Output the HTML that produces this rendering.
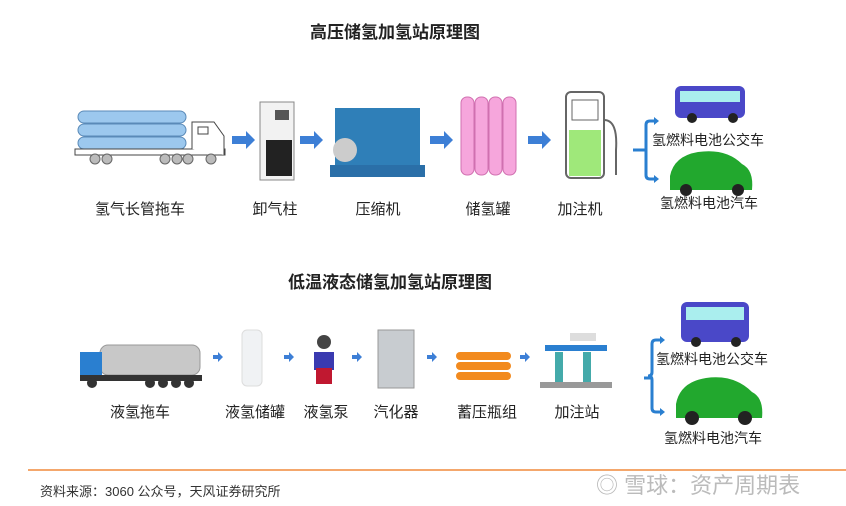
<!DOCTYPE html><html><head><meta charset="utf-8"><style>
body{margin:0;width:846px;height:506px;background:#fff;position:relative;overflow:hidden;font-family:"Liberation Sans","Noto Sans CJK SC",sans-serif}
.a{position:absolute}
.t{position:absolute;font-size:15px;color:#222;white-space:nowrap;transform:translateX(-50%)}
.h{position:absolute;font-size:17px;font-weight:bold;color:#222;transform:translateX(-50%);white-space:nowrap}
</style></head><body>
<div class="h" style="left:395px;top:18px">高压储氢加氢站原理图</div>
<div class="h" style="left:390px;top:268px">低温液态储氢加氢站原理图</div>
<svg class="a" style="left:0;top:0" width="846" height="506">
<!-- truck 1 -->
<g fill="#9cc8ee" stroke="#5a8ab8"><rect x="78" y="111" width="108" height="12" rx="6"/><rect x="78" y="124" width="108" height="12" rx="6"/><rect x="78" y="137" width="108" height="12" rx="6"/></g>
<rect x="75" y="149" width="150" height="6" fill="#fff" stroke="#444"/>
<path d="M192 149V122h22l10 14v19" fill="#fff" stroke="#444"/><rect x="198" y="127" width="10" height="7" fill="none" stroke="#444"/>
<g fill="#bbb" stroke="#666"><circle cx="95" cy="159" r="5"/><circle cx="107" cy="159" r="5"/><circle cx="165" cy="159" r="5"/><circle cx="177" cy="159" r="5"/><circle cx="188" cy="159" r="5"/><circle cx="211" cy="159" r="5"/></g>
<g fill="#3d7fd6"><path d="M232 136h14v-5l9 9-9 9v-5h-14z"/><path d="M300 136h14v-5l9 9-9 9v-5h-14z"/><path d="M430 136h14v-5l9 9-9 9v-5h-14z"/><path d="M528 136h14v-5l9 9-9 9v-5h-14z"/></g>
<rect x="260" y="102" width="34" height="78" fill="#f2f2f2" stroke="#888"/><rect x="275" y="110" width="14" height="10" fill="#555"/><rect x="266" y="140" width="26" height="36" fill="#222"/>
<rect x="335" y="108" width="85" height="60" fill="#2f7fb8"/><rect x="330" y="165" width="95" height="12" fill="#2a6fa8"/><circle cx="345" cy="150" r="12" fill="#ccc"/>
<g fill="#f6a6dc" stroke="#d070b0"><rect x="461" y="97" width="13" height="78" rx="6"/><rect x="475" y="97" width="13" height="78" rx="6"/><rect x="489" y="97" width="13" height="78" rx="6"/><rect x="503" y="97" width="13" height="78" rx="6"/></g>
<rect x="566" y="92" width="38" height="86" rx="5" fill="#fff" stroke="#666" stroke-width="2"/><rect x="569" y="130" width="32" height="46" fill="#9fe87a"/><rect x="572" y="100" width="26" height="20" fill="#fff" stroke="#666"/>
<path d="M604 120q14 0 12 30v25" fill="none" stroke="#666" stroke-width="2"/>
<!-- bracket 1 -->
<path d="M656 121h-6q-4 0-4 4v50q0 4 4 4h6M633 150h13" fill="none" stroke="#2a7fd0" stroke-width="3"/>
<path d="M654 117l5 4-5 4zM654 175l5 4-5 4z" fill="#2a7fd0"/>
<rect x="675" y="86" width="70" height="32" rx="6" fill="#4a48c8"/><rect x="680" y="91" width="60" height="11" fill="#aee"/><circle cx="692" cy="118" r="5" fill="#222"/><circle cx="733" cy="118" r="5" fill="#222"/>
<path d="M670 190v-14q4-20 28-24q28-4 44 12q12 6 10 26z" fill="#22a82e"/><circle cx="686" cy="190" r="6" fill="#222"/><circle cx="738" cy="190" r="6" fill="#222"/>
<!-- row2 -->
<rect x="100" y="345" width="100" height="30" rx="8" fill="#c8c8c8" stroke="#999"/><rect x="80" y="352" width="22" height="26" fill="#2a7fd0"/><rect x="80" y="375" width="122" height="6" fill="#333"/>
<g fill="#333"><circle cx="92" cy="383" r="5"/><circle cx="150" cy="383" r="5"/><circle cx="163" cy="383" r="5"/><circle cx="176" cy="383" r="5"/><circle cx="189" cy="383" r="5"/></g>
<g fill="#3d7fd6"><path d="M213 355h5v-3l5 5-5 5v-3h-5z"/><path d="M284 355h5v-3l5 5-5 5v-3h-5z"/><path d="M352 355h5v-3l5 5-5 5v-3h-5z"/><path d="M427 355h5v-3l5 5-5 5v-3h-5z"/><path d="M520 355h5v-3l5 5-5 5v-3h-5z"/></g>
<rect x="242" y="330" width="20" height="56" rx="5" fill="#f0f2f4" stroke="#ddd"/>
<circle cx="324" cy="342" r="7" fill="#444"/><rect x="314" y="352" width="20" height="18" fill="#3a3ab0"/><rect x="316" y="368" width="16" height="16" fill="#c01830"/>
<rect x="378" y="330" width="36" height="58" fill="#c8ccd0" stroke="#999"/>
<g fill="#f28a1e"><rect x="456" y="352" width="55" height="8" rx="4"/><rect x="456" y="362" width="55" height="8" rx="4"/><rect x="456" y="372" width="55" height="8" rx="4"/></g>
<rect x="545" y="345" width="62" height="6" fill="#2a7fd0"/><rect x="570" y="333" width="26" height="8" fill="#ddd"/><rect x="555" y="352" width="8" height="30" fill="#4aa"/><rect x="583" y="352" width="8" height="30" fill="#4aa"/><rect x="540" y="382" width="72" height="6" fill="#999"/>
<!-- bracket 2 -->
<path d="M662 340h-6q-4 0-4 4v28q0 4-4 4q4 0 4 4v28q0 4 4 4h6M644 378h8" fill="none" stroke="#2a7fd0" stroke-width="3"/>
<path d="M660 336l5 4-5 4zM660 408l5 4-5 4z" fill="#2a7fd0"/>
<rect x="681" y="302" width="68" height="40" rx="6" fill="#4a48c8"/><rect x="686" y="307" width="58" height="13" fill="#aee"/><circle cx="696" cy="342" r="5" fill="#222"/><circle cx="736" cy="342" r="5" fill="#222"/>
<path d="M676 418v-14q4-22 30-26q28-4 46 14q12 6 10 26z" fill="#22a82e"/><circle cx="692" cy="418" r="7" fill="#222"/><circle cx="745" cy="418" r="7" fill="#222"/>
<line x1="28" y1="470" x2="846" y2="470" stroke="#f08a3c" stroke-width="1.5"/>
</svg>
<div class="t" style="left:140px;top:198px">氢气长管拖车</div>
<div class="t" style="left:275px;top:198px">卸气柱</div>
<div class="t" style="left:378px;top:198px">压缩机</div>
<div class="t" style="left:488px;top:198px">储氢罐</div>
<div class="t" style="left:580px;top:198px">加注机</div>
<div class="a" style="left:652px;top:130px;font-size:14px;color:#222">氢燃料电池公交车</div>
<div class="a" style="left:660px;top:193px;font-size:14px;color:#222">氢燃料电池汽车</div>
<div class="t" style="left:140px;top:401px">液氢拖车</div>
<div class="t" style="left:255px;top:401px">液氢储罐</div>
<div class="t" style="left:326px;top:401px">液氢泵</div>
<div class="t" style="left:396px;top:401px">汽化器</div>
<div class="t" style="left:487px;top:401px">蓄压瓶组</div>
<div class="t" style="left:577px;top:401px">加注站</div>
<div class="a" style="left:656px;top:349px;font-size:14px;color:#222">氢燃料电池公交车</div>
<div class="a" style="left:664px;top:428px;font-size:14px;color:#222">氢燃料电池汽车</div>
<div class="a" style="left:40px;top:481px;font-size:13px;color:#333">资料来源：3060 公众号，天风证券研究所</div>
<div class="a" style="left:596px;top:468px;font-size:22px;color:#bbb">◎ 雪球：资产周期表</div>
</body></html>
